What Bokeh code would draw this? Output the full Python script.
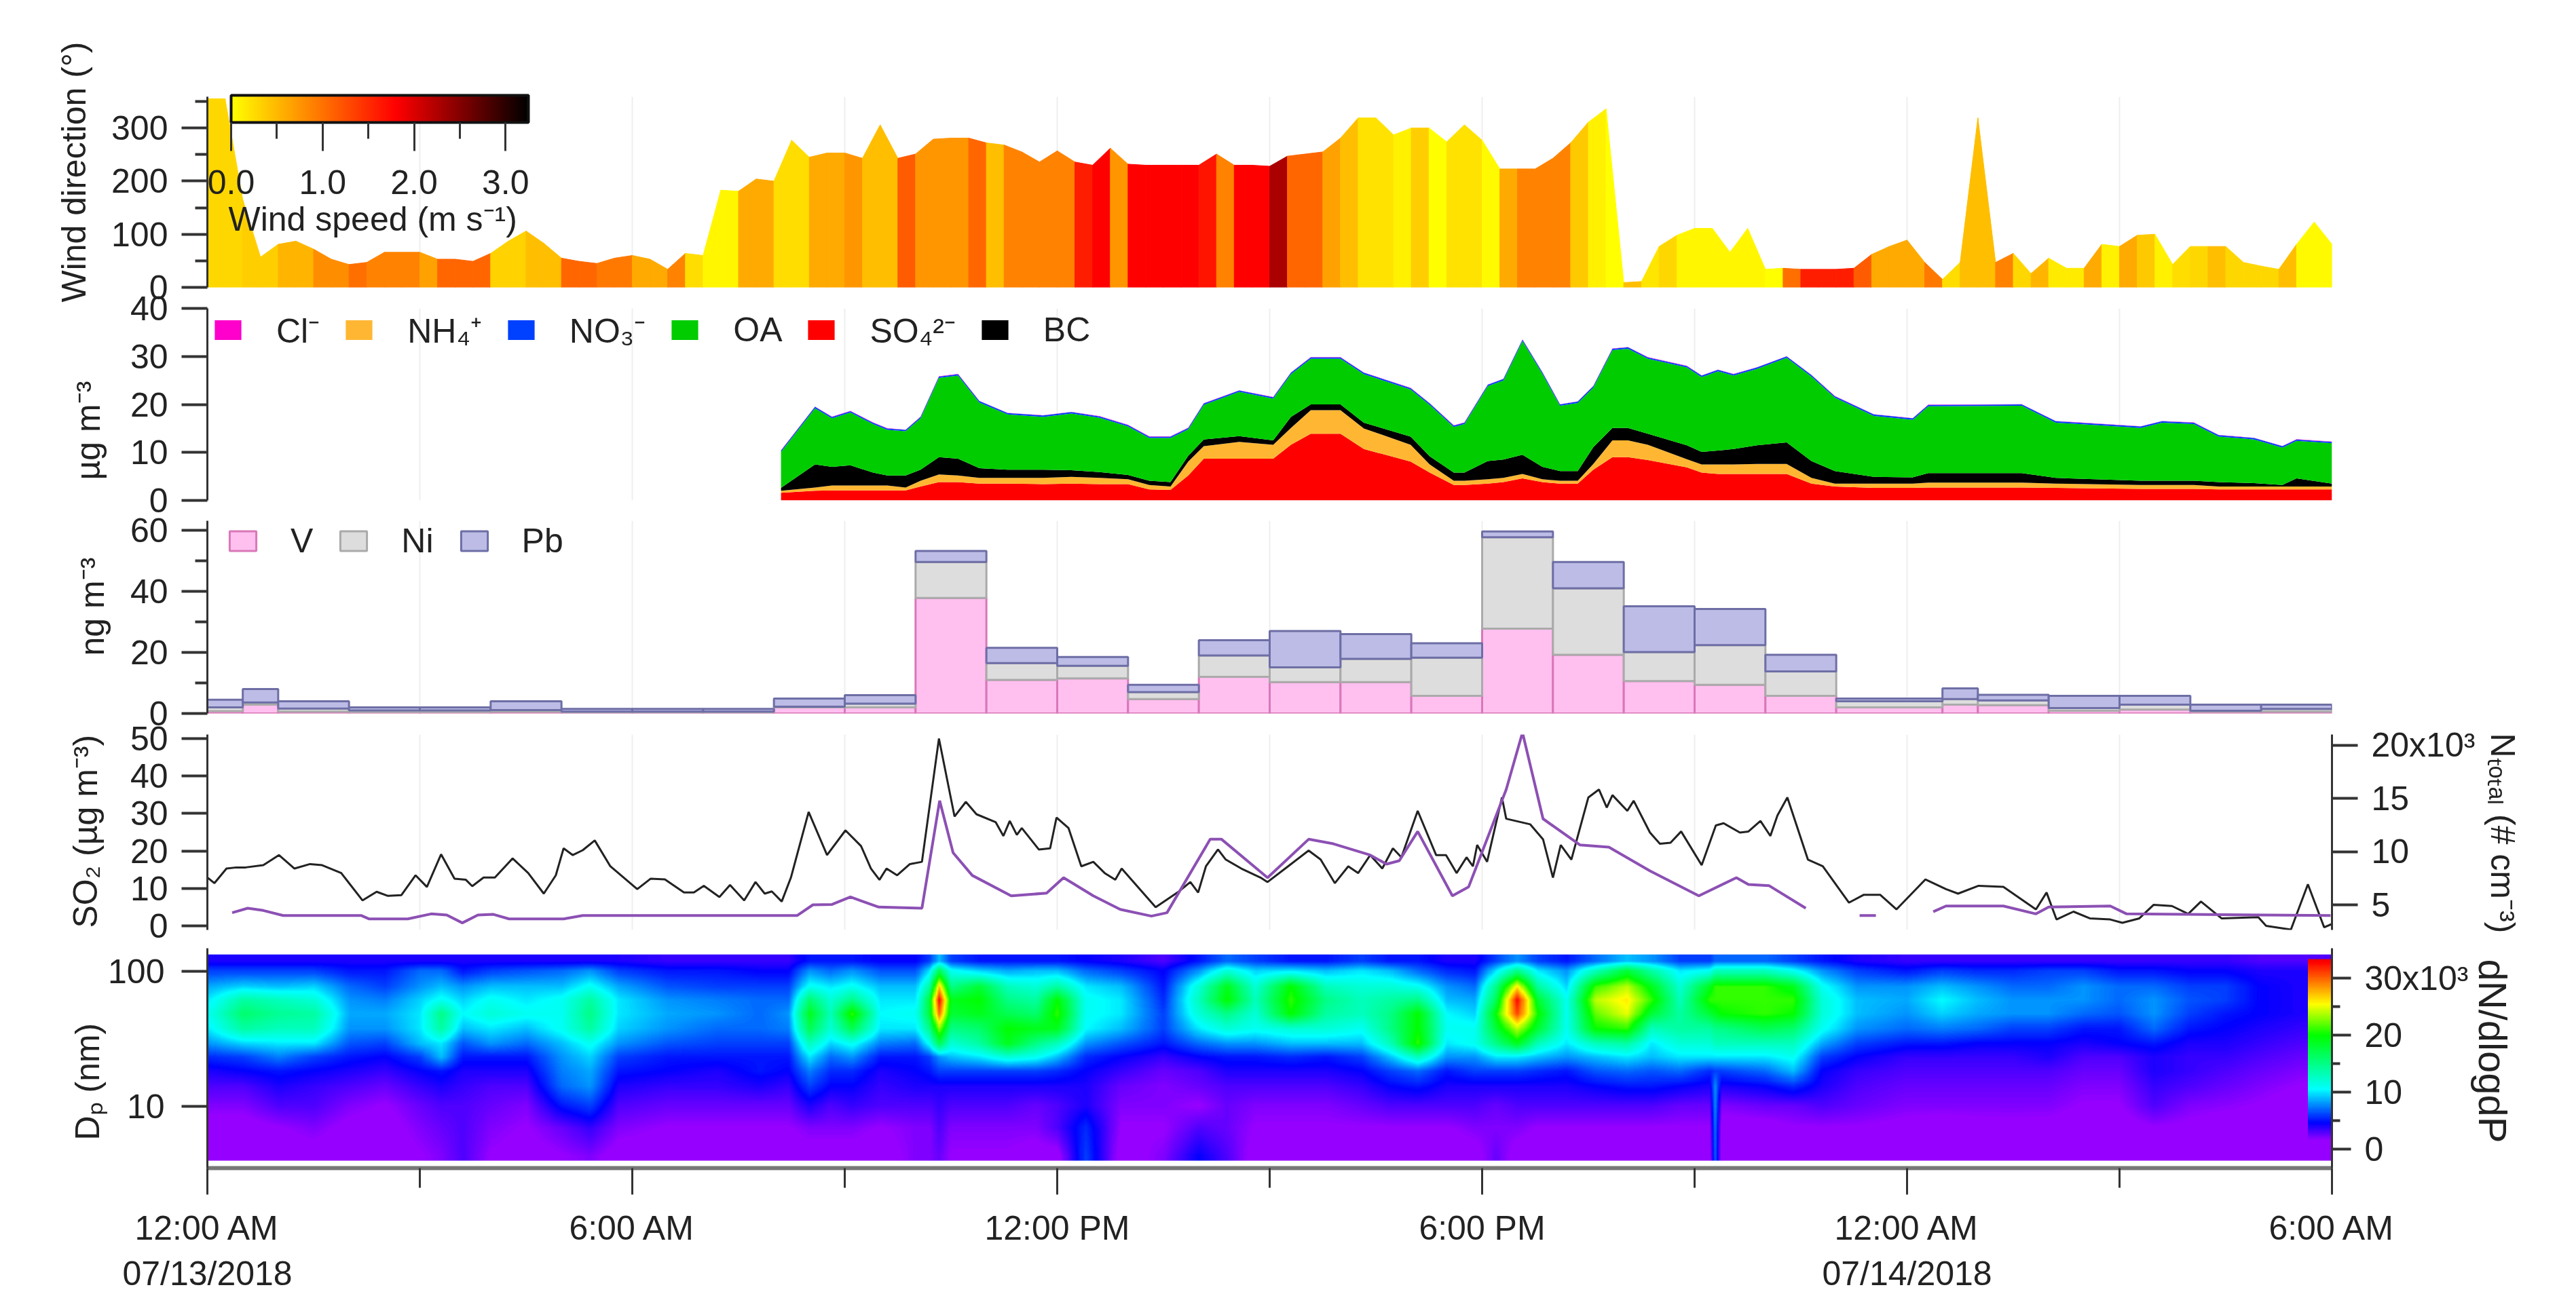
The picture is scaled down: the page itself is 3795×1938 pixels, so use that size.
import numpy as np
from bokeh.embed import file_html
from bokeh.resources import INLINE
from bokeh.layouts import column
from bokeh.plotting import figure
from bokeh.models import (Range1d, LinearAxis, LogAxis, LinearScale, LogScale, FixedTicker, LinearColorMapper, ColorBar,
                          PrintfTickFormatter, Label, Legend, LegendItem, ColumnDataSource, Title, Grid)

# ---------- data ----------
# wind, every 15 minutes from 00:00 on 07/13
wind_dir = [355,355,165,57,81,87,72,53,43,47,66,66,66,53,53,49,64,87,106,83,55,49,45,55,60,53,34,64,60,183,
            181,204,200,277,245,253,253,243,306,243,251,279,281,281,272,268,255,236,257,236,230,262,232,230,230,230,
            230,251,230,230,228,247,251,255,281,319,319,287,300,300,274,306,277,223,223,223,243,272,311,336,9,11,77,98,
            111,111,66,111,34,36,34,34,34,36,62,77,89,47,15,47,319,47,64,26,55,36,36,81,77,98,100,43,77,77,77,47,40,34,81,123,81]
wind_speed = [.28,.28,.35,.35,.53,.53,.81,.81,1.02,.88,.88,.88,.67,1.09,1.09,1.09,.32,.32,.46,.46,1.09,1.09,.95,.95,.6,.6,.88,.25,.07,.07,
              .6,.6,.25,.25,.6,.6,.74,.46,.46,1.16,.74,.74,.74,1.09,.46,.88,.88,.88,.88,1.59,1.8,.74,1.8,1.8,1.8,1.8,
              1.66,.88,1.8,1.8,2.28,1.09,1.09,.67,.46,.21,.21,.11,.35,0,.21,.21,.04,.6,.88,.88,.88,.39,.11,0,.46,.18,.28,.07,
              .07,.07,.07,.07,0,1.02,1.59,1.59,1.59,1.16,.6,.6,.6,.95,.25,.46,.46,.88,.28,.53,.14,.14,.6,.11,.6,.39,.11,.25,.28,.46,.28,.28,.28,.46,.04,.04]
wind_ticks = [0, 1, 2, 3]

# aerosol composition, ug m-3
aero_time = [8.1,8.58,8.82,9.08,9.4,9.6,9.86,10.07,10.33,10.6,10.9,11.3,11.8,12.2,12.6,13.0,13.3,13.6,13.85,14.07,
             14.57,15.05,15.3,15.58,16.0,16.33,16.99,17.26,17.6,17.75,18.08,18.3,18.57,18.85,19.1,19.35,19.57,19.84,20.06,20.34,
             20.89,21.1,21.33,21.55,21.88,22.3,22.65,22.98,23.53,24.08,24.3,25.62,26.1,27.3,27.6,28.05,28.4,28.9,29.3,29.5,30]
so4 = [1.6,2.0,2.1,2.1,2.1,2.1,2.1,2.9,3.8,3.8,3.5,3.5,3.4,3.5,3.4,3.4,2.3,2.2,5.2,8.7,
       8.7,8.7,11.6,13.9,13.9,10.7,8.1,5.8,3.2,3.2,3.5,3.8,4.6,3.8,3.5,3.5,6.4,9.0,9.0,8.4,
       6.9,5.8,5.5,5.5,5.5,5.5,3.5,2.9,2.6,2.6,2.7,2.7,2.6,2.4,2.4,2.4,2.3,2.3,2.3,2.3,2.3]
nh4 = [.4,.7,1.0,1.0,1.0,1.0,.6,1.2,1.6,1.4,1.2,1.2,1.3,1.4,1.3,1.0,.9,.7,2.9,2.6,
       3.5,2.9,3.5,4.9,4.9,4.3,3.5,1.7,.9,.9,.9,.9,.9,.6,.6,.6,1.2,3.5,3.5,3.2,
       1.7,1.7,2.0,2.0,2.1,2.1,1.2,.6,.9,.9,1.0,1.0,.9,.8,.8,.8,.6,.6,.6,.6,.6]
bc = [.6,4.8,3.9,4.2,2.7,2.1,2.5,2.3,3.6,3.5,2.0,1.7,1.7,1.4,1.2,.9,.9,.9,1.2,1.4,
      1.2,.9,2.3,1.2,1.2,1.2,1.7,1.7,1.7,1.7,3.8,3.8,4.0,2.6,2.0,2.0,3.5,2.6,2.6,2.3,
      2.9,2.6,2.9,3.2,3.9,4.5,3.5,2.6,1.4,1.3,2.0,2.0,1.2,.9,.9,.9,.9,.7,.3,1.7,.6]
oa = [7.5,11.7,10.1,11,10.1,9.5,9.2,10.7,16.5,17.3,13.7,11.5,11,11.8,11.3,10.1,8.9,9.2,5.5,7.2,
      9.2,8.7,8.9,9.5,9.5,10.1,9.8,10.7,9.5,10.1,15.6,16.5,23.7,19.4,13.6,14.2,12.4,16.2,16.5,15.6,
      16.2,15.6,16.5,15.3,15.9,17.6,17.6,15.3,12.7,12,13.9,14,11.5,11,12.1,11.8,9.5,9.1,7.8,7.8,8.4]
no3 = [0.3] * len(aero_time)
cl = [0.05] * len(aero_time)

# metals, ng m-3
metal_left  = [0,.5,1,2,3,4,5,6,7,8,9,10,11,12,13,14,15,16,17,18,19,20,21,22,23,24.5,25,26,27,28,29]
metal_right = [.5,1,2,3,4,5,6,7,8,9,10,11,12,13,14,15,16,17,18,19,20,21,22,23,24.5,25,26,27,28,29,30]
v_metal  = [.8,2.9,.6,.5,.5,.6,.4,.4,.4,2,2,37.8,11,11.5,4.7,12,10.3,10.3,5.8,27.8,19.2,10.6,9.4,5.8,2,2.9,2.7,.9,1.3,.6,.6]
ni_metal = [1.2,.7,1,.5,.5,.5,.2,.2,.2,.2,1.2,11.8,5.5,4.1,2.3,7,4.8,7.6,12.5,29.9,21.8,9.5,13,8,2,1.8,1.6,.9,1.6,.3,.9]
pb_metal = [2.5,4.4,2.4,1,1,2.9,.9,.9,.9,2.7,2.8,3.6,5,2.9,2.4,5,11.9,8.1,4.7,1.9,8.6,15,11.8,5.4,.9,3.5,1.8,4,2.9,2,1.4]

# SO2 (ug m-3)
so2_time = [0,.1,.27,.41,.54,.79,1.01,1.23,1.45,1.62,1.89,2.19,2.39,2.55,2.74,2.94,3.1,3.3,3.49,3.65,3.74,3.9,4.06,4.31,4.53,4.75,4.92,5.03,5.16,5.3,
            5.47,5.69,6.07,6.26,6.46,6.73,6.87,7.01,7.23,7.38,7.58,7.74,7.87,7.97,8.11,8.24,8.49,8.75,9.01,9.23,9.37,9.49,9.59,9.74,9.92,10.09,10.33,10.55,10.71,10.86,
            11.13,11.24,11.33,11.43,11.5,11.74,11.9,11.99,12.16,12.34,12.51,12.67,12.82,12.91,13.39,13.72,13.88,13.99,14.1,14.27,14.38,14.6,14.87,
            14.97,15.26,15.55,15.72,15.92,16.11,16.25,16.42,16.59,16.74,16.86,17.09,17.35,17.49,17.64,17.78,17.87,17.93,18.07,18.28,18.34,18.68,18.86,19.0,19.11,19.26,19.5,
            19.65,19.76,19.84,20.05,20.14,20.37,20.51,20.66,20.81,21.1,21.3,21.41,21.64,21.76,21.93,22.07,22.17,22.31,22.6,22.81,23.18,23.39,23.62,23.85,24.26,24.55,24.72,25.01,25.36,25.82,
            25.97,26.11,26.35,26.58,26.87,27.04,27.28,27.48,27.74,27.97,28.15,28.44,28.96,29.07,29.42,29.66,29.89,30]
so2 = [12.9,11.4,15.3,15.6,15.6,16.2,18.9,15.3,16.5,16.2,14.1,6.8,9.1,8,8.2,13.5,10.4,19.1,12.6,12.3,10.6,12.9,12.9,18,14.1,8.6,13.5,20.7,18.9,20.2,
       22.8,15.9,9.8,12.6,12.4,8.9,8.9,10.7,7.7,10.9,6.8,11.7,8.6,9.2,6.5,12.9,30.4,18.9,25.5,21.3,15.3,12.3,15.3,13.5,16.5,17.1,50,29.2,33.1,29.8,
       27.7,24,28,24.3,26.1,20.4,20.7,28.9,26.1,15.9,17.1,14.1,12.3,15.3,5,9.2,11.7,8.9,15.9,20.4,17.7,15.3,12.9,
       11.7,15.9,20.1,17.7,11.4,15.9,14.1,18.9,15.3,20.7,18.3,30.7,18.9,18.9,14.1,18.3,15.9,21.6,17.1,34.3,28.6,27.1,23.1,12.9,21.6,17.7,34.3,
       36.4,31.6,34.9,30.7,33.4,24.9,21.9,22.2,25.2,16.2,26.8,27.4,24.9,25.2,28,24,29.5,34.3,17.7,15.9,6.2,8.3,8.3,4.4,12.4,9.8,8.6,10.7,10.4,4.4,
       8.9,1.7,3.8,2,1.7,.8,2,5.6,5.3,3.2,6.5,2,2.3,0,-1,11.1,-.4,.5]

# total number concentration (x10^3 cm-3); nan marks a gap
nan = float("nan")
ntot_time = [.35,.57,.79,1.07,2.17,2.28,2.83,3.16,3.38,3.6,3.82,4.04,4.26,5.03,5.3,8.33,8.55,8.82,9.08,9.48,10.09,10.34,10.53,10.8,11.35,11.85,12.09,12.51,12.89,13.33,13.55,14.16,14.32,
             14.97,15.55,15.9,16.42,16.65,16.83,17.09,17.58,17.81,18.34,18.57,18.86,19.38,19.79,20.37,21.06,21.59,21.76,22.05,22.57,23.0,23.33,23.56,24.0,24.37,24.55,25.36,25.82,26.0,26.87,27.1,29.98]
ntot = [4.26,4.68,4.47,4,4,3.68,3.68,4.15,4.04,3.3,4.04,4.1,3.68,3.68,4,4,5,5.04,5.74,4.79,4.68,14.8,9.9,7.77,5.85,6.1,7.55,5.85,4.57,3.94,4.26,11.17,11.17,
        7.55,11.17,10.74,9.68,8.83,9.15,11.9,5.85,6.7,15.85,21.2,13.09,10.64,10.43,8.19,5.85,7.55,6.91,6.81,4.68,nan,4,4,nan,4.36,4.89,4.89,4.15,4.79,4.89,4.15,4]

# size distribution, dN/dlogDp (x10^3): one list of values per time, one value per diameter
hm_dp = [118,100,77,61,48,37.5,29,23,18,14,10,6.8,4.2]
hm_hours = [0,.5,1,1.5,2,2.5,3,3.3,3.6,4,4.5,5,5.4,5.8,6.5,7.2,7.8,8.2,8.5,8.8,9.1,9.5,10,10.2,10.33,10.5,10.9,11.3,11.7,12,12.4,12.9,13.5,14,14.4,14.8,15.3,15.8,16.3,16.7,17.1,17.5,17.9,18.2,18.5,18.8,19.2,19.6,20.05,20.4,20.8,21.22,21.3,21.38,22,22.4,22.8,23.3,24,24.5,25,25.5,26,26.5,27,27.5,28,28.5,29,29.6,30]
hm_values = [
 [4,6,8.5,10,11,10,8,5.5,4,3,2,1,.8],
 [4,6,9.5,14,16,14,9.5,6,4.5,3,2,1,.8],
 [4,6,9,13,14.5,13,10,7.5,5,4,3,1.5,1],
 [4,6,9.5,12,14,13,10,6,4.5,3.5,3,2,1],
 [4,5,7,8,8.5,8,6.5,5,4,3,2,1.2,1],
 [4,5,6,7.5,8.5,8,6,4.5,3.5,2.5,1.5,1,1],
 [4,7,8,9.5,10,10,9,6,4.5,3.5,2.5,2,1.5],
 [4,7,9,11,15,14,10,9,5,4,3,2.5,2],
 [4,5,8,9.5,10.5,9,6.5,5,4,3.5,3,3,3],
 [4,6,9,11,12,10,8,5,4,3,2.5,2,1.5],
 [4,6.5,9,10,11,9,7,5,4,3,2,1.5,1],
 [4,7,9,11,11,11,9,8,7.5,7,5,2.5,1.5],
 [4,8,11,14,15,14,11,9.5,8.5,8,6,3.5,2],
 [4,6,8.5,10,10,9.5,8,6,5,4,3,2,1],
 [3.5,5,6.5,8,8.5,8,6.5,5,4.5,3.5,2.5,1.5,1],
 [3.5,5,6,7.5,8,7,6,5,4,3.5,2.5,1.5,1],
 [3.5,4.5,6,7,7,7,6,5,5,4,2.5,1.5,1],
 [3.5,4.5,6,7,8,7.5,6,5,4.5,3.5,2.5,1.5,1],
 [5,8,11,16,19,17,13,10,7.5,6,4,2,1],
 [5,7,10,12,13,12,9.5,7,5.5,4.5,3,2,1],
 [5,8,11,15,21,17,11,8,5.5,4.5,3.5,2,1],
 [4.5,6.5,9,10,10.5,10,7.5,5,4,3.5,3,1.5,1],
 [4.5,6.5,9,10,11,10,7,5,4.5,4,3,2,2],
 [6,10,14,18,18,15,11,6,5,4,3,2,2],
 [9,17,27,33,30,23,17,8,6,4,3.5,3,2.5],
 [6,11,15,19,18,15,12,9,6,4,3,2,1.5],
 [5,9.5,18,20,19,16,14,10,6,4,3,2,1.5],
 [5,8.5,13,15,17,20,19,12,6,4,3,2,1.5],
 [5,9,12,14,16,19,15,11,6,4,2.5,2,1],
 [5,9,14,20,21,19,13,9,5.5,4,3,3,1],
 [4.5,7,10,11,11,10.5,8,5.5,4.5,4,4,5.5,6],
 [4,6,9,10,10,9,6.5,4.5,3.5,2.5,2,1.5,1],
 [3,4.5,5,5.5,6,6,5,3.5,2.5,2,2,1.5,2],
 [5,8,12,13,12,10,7,4.5,3,2.5,1.5,3,4.5],
 [7,12,19,20,15,12,8,5,4,3,2.5,2.5,3],
 [6,9.5,12,13,12,11,8,5,4,3,2,1.5,1],
 [5,10,20,21,20,12,9,5.5,4,3,2,1.5,1],
 [5,9,13,15,14,12,9,5,4,3,2,1.5,1],
 [6,10,12,13,13,11,9,6,4.5,3.5,2.5,1.5,1],
 [5,9,12,14,15,15,13,9,6,4.5,3,1.5,1],
 [5,7,11,15,20,20,21,13,7,5,3,1.5,1],
 [4,5.5,8,9,10.5,11,10,8,5,4,3,1.5,1],
 [4,5,7,8.5,9.5,11,11,8,6,4,3,2,1],
 [6,10,15,17,20,18,15,10,6,4,2.5,2,2.5],
 [8,15,26,33,31,24,19,10,6,4,3,2,1],
 [6,10,14,18,20,18,13,9,5.5,4,3,1.5,1],
 [5,8,9.5,11,11,11,10,8,5,4,3,1.5,1],
 [7,13,21,24,22,20,13,9,6.5,4.5,3,1.5,1],
 [9,18,24,26,25,21,14,10,7,5,3,1.5,1],
 [8,14,19,21,18,13,10,9,6.5,5,3,1.5,1],
 [6,10,12,13,14,14,12,10,7,4.5,2.5,1.5,1],
 [6,11,19,21,18,14,12,10,5.5,4,2.5,1.5,1],
 [7,13,21,21,19,15,13,10,6,8,8,7.5,7],
 [7,13,21,21,20,15,13,10,6,4,2,1,1],
 [7,13,21,21,21,17,13,10,7,4.5,2.5,1,.8],
 [6,11,19,21,20,16,13,11,9,5.5,2.5,1.5,1],
 [5,8,11,12,12,11,8.5,6,4.5,4,3,1.5,1],
 [4,6,8,9,9,8,6,4.5,3.5,3,2.5,1.5,1],
 [3.5,5,8,8.5,8,7,5,3.5,3,2.5,2,1.2,1],
 [3.5,6,9,10.5,9.5,7.5,5,3.5,3,2.5,2,1,.8],
 [3.5,5.5,8,9,8.5,7,4.5,3.5,3,2.5,2,1.2,1],
 [3.5,5.5,7,8,8,6,4.5,3.5,3,2.5,2,1.3,1],
 [3.5,6,7,8,8,6,4.5,4,3,2.5,2,1.2,1],
 [3.5,6,8,8,7,5,4,3,2.5,2,1.5,1,1],
 [3.5,5,7,7,6.5,5,4.5,3,2.5,2,1.5,1,.8],
 [3.5,5,7,8,8,7,5,4,4,3.5,3,1.5,1],
 [3.5,4.5,6,6.5,6,5,4,3.5,3.5,3,2,1.3,1],
 [3.5,4.5,6,6,5,4.5,4,3.5,3,2.5,1.8,1,.8],
 [3,4,4.5,4.5,4.5,4,3.5,3,2.5,2,1.5,1,.8],
 [3,4,4,4,4,3.5,3,2.5,2,1.5,1,1,.8],
 [3,4,4,4,4,3.5,3,2.5,2,1.5,1,1,.8],
]

x_tick_hours = [0, 6, 12, 18, 24, 30]
x_minor_hours = [3, 9, 15, 21, 27]
x_tick_labels = ["12:00 AM\n07/13/2018", "6:00 AM", "12:00 PM", "6:00 PM", "12:00 AM\n07/14/2018", "6:00 AM"]

# ---------- layout (reference pixels) ----------
FONT = "Liberation Sans"
TXT = "#222222"
FS = "50px"
X0, X1 = 305, 3435
FIG_W = 3780

def ramp(stops, n=256):
    xs = np.array([s[0] for s in stops], float)
    out = []
    for t in np.linspace(xs[0], xs[-1], n):
        c = [int(round(np.interp(t, xs, [s[1][i] for s in stops]))) for i in range(3)]
        out.append("#%02x%02x%02x" % tuple(c))
    return out

wind_mapper = LinearColorMapper(palette=ramp([(0, (255,255,0)), (1.8, (255,0,0)), (3.25, (0,0,0))]), low=0, high=3.25)
dn_mapper = LinearColorMapper(palette=ramp([(-1.5,(150,0,255)),(1.5,(150,0,255)),(4.5,(0,0,255)),(10.5,(0,255,255)),
                                            (20,(0,255,0)),(25.5,(255,255,0)),(33,(255,0,0)),(33.6,(225,0,0))]), low=-1.5, high=33.6)

def panel(ytop, ybot, canvas_top, canvas_bot, yr, overlap=0, grid=True):
    p = figure(width=FIG_W, height=canvas_bot - canvas_top, x_range=Range1d(0, 30), y_range=yr,
               x_axis_type=None, y_axis_type=None,
               output_backend="svg", toolbar_location=None, min_border_left=X0,
               min_border_right=FIG_W - X1, min_border_top=ytop - canvas_top,
               min_border_bottom=canvas_bot - ybot, border_fill_color=None, background_fill_color=None,
               outline_line_color=None, margin=(-overlap, 0, 0, 0))
    if grid:
        p.add_layout(Grid(dimension=0, ticker=FixedTicker(ticks=[3 * i for i in range(1, 10)]),
                          grid_line_color="#eeeeee", grid_line_width=2))
    p._px = ybot
    return p

def style_axis(a, major, minor=(), tick=38, minor_len=18, standoff=20):
    a.ticker = FixedTicker(ticks=list(major), minor_ticks=list(minor))
    a.axis_line_color = "#333333"; a.axis_line_width = 3
    a.major_tick_line_color = "#333333"; a.major_tick_line_width = 4
    a.minor_tick_line_color = "#333333"; a.minor_tick_line_width = 4
    a.major_tick_in = 0; a.major_tick_out = tick
    a.minor_tick_in = 0; a.minor_tick_out = minor_len
    a.major_label_standoff = standoff
    a.major_label_text_font = FONT; a.major_label_text_font_size = FS
    a.major_label_text_color = TXT
    a.major_label_orientation = "horizontal"

def left_axis(p, major, minor=()):
    a = LinearAxis()
    style_axis(a, major, minor)
    p.add_layout(a, "left")
    return a

def put(p, xpx, ypx, s, size=FS, angle=0.0, align="center", base="middle"):
    p.add_layout(Label(x=xpx - X0, y=p._px - ypx, x_units="screen", y_units="screen", text=s,
                       text_font=FONT, text_font_size=size, text_color=TXT, angle=angle,
                       text_align=align, text_baseline=base))

def side_title(p, side, s, standoff, offset, size=FS):
    p.add_layout(Title(text=s, align="left", standoff=standoff, offset=offset, text_font=FONT,
                       text_font_size=size, text_font_style="normal", text_color=TXT), side)

# ---------- panel 1: wind ----------
p1 = panel(142, 423, 0, 450, Range1d(0, 359))
left_axis(p1, [0, 100, 200, 300], [50, 150, 250, 350])
wt = [0.25 * i for i in range(len(wind_dir))]
src = ColumnDataSource(dict(
    xs=[[wt[i], wt[i + 1], wt[i + 1], wt[i]] for i in range(len(wind_speed))],
    ys=[[0, 0, wind_dir[i + 1], wind_dir[i]] for i in range(len(wind_speed))],
    v=wind_speed))
p1.patches("xs", "ys", source=src, fill_color={"field": "v", "transform": wind_mapper},
           line_color={"field": "v", "transform": wind_mapper}, line_width=1)
cb = ColorBar(color_mapper=wind_mapper, width=438, height=40, orientation="horizontal",
              location=(35, 135), padding=0, margin=0, background_fill_color=None,
              ticker=FixedTicker(ticks=wind_ticks, minor_ticks=[.5, 1.5, 2.5]),
              formatter=PrintfTickFormatter(format="%.1f"),
              bar_line_color="#111111", bar_line_width=4, major_tick_in=0, major_tick_out=42, minor_tick_in=0, minor_tick_out=24,
              major_tick_line_color="#333333", major_tick_line_width=3, minor_tick_line_color="#333333", minor_tick_line_width=3,
              label_standoff=28, major_label_text_font=FONT, major_label_text_font_size=FS, major_label_text_color=TXT)
p1.add_layout(cb, "center")
put(p1, 336, 322, "Wind speed (m s\u207b\u00b9)", align="left")
side_title(p1, "left", "Wind direction (\u00b0)", 50, -22)

# ---------- panel 2: composition ----------
p2 = panel(454, 737, 430, 755, Range1d(0, 40), overlap=20)
left_axis(p2, [0, 10, 20, 30, 40])
src = ColumnDataSource(dict(t=aero_time, so4=so4, nh4=nh4, bc=bc, oa=oa, no3=no3, cl=cl))
names = ["so4", "nh4", "bc", "oa", "no3", "cl"]
cols = ["#ff0000", "#ffb733", "#000000", "#00cc00", "#0040ff", "#ff00cc"]
rs = p2.varea_stack(stackers=names, x="t", color=cols, source=src)
by = dict(zip(names, rs))
leg = Legend(items=[LegendItem(label="Cl\u207b", renderers=[by["cl"]]), LegendItem(label="NH\u2084\u207a", renderers=[by["nh4"]]),
                    LegendItem(label="NO\u2083\u207b", renderers=[by["no3"]]), LegendItem(label="OA", renderers=[by["oa"]]),
                    LegendItem(label="SO\u2084\u00b2\u207b", renderers=[by["so4"]]), LegendItem(label="BC", renderers=[by["bc"]])],
             orientation="horizontal", location=(6, 217), border_line_color=None, background_fill_alpha=0, padding=0, margin=0, spacing=33,
             glyph_width=49, glyph_height=36, label_standoff=47, label_text_font=FONT, label_text_font_size=FS,
             label_text_color=TXT, label_height=36)
p2.add_layout(leg, "center")
side_title(p2, "left", "\u00b5g m\u207b\u00b3", 62, 30)

# ---------- panel 3: metals ----------
p3 = panel(767, 1051, 745, 1070, Range1d(0, 63.1), overlap=10)
left_axis(p3, [0, 20, 40, 60], [10, 30, 50])
b1 = np.array(v_metal); b2 = b1 + np.array(ni_metal); b3 = b2 + np.array(pb_metal)
r_v = p3.quad(left=metal_left, right=metal_right, bottom=0, top=b1, fill_color="#ffc0f0", line_color="#d878b8", line_width=3)
r_ni = p3.quad(left=metal_left, right=metal_right, bottom=b1, top=b2, fill_color="#dddddd", line_color="#aaaaaa", line_width=3)
r_pb = p3.quad(left=metal_left, right=metal_right, bottom=b2, top=b3, fill_color="#bcbce6", line_color="#6e6ea6", line_width=3)
leg3 = Legend(items=[LegendItem(label="V", renderers=[r_v]), LegendItem(label="Ni", renderers=[r_ni]), LegendItem(label="Pb", renderers=[r_pb])],
              orientation="horizontal", location=(28, 225), border_line_color=None, background_fill_alpha=0, padding=0, margin=0, spacing=35,
              glyph_width=49, glyph_height=36, label_standoff=46, label_text_font=FONT, label_text_font_size=FS,
              label_text_color=TXT, label_height=36)
p3.add_layout(leg3, "center")
side_title(p3, "left", "ng m\u207b\u00b3", 50, 85)

# ---------- panel 4: SO2 and number ----------
p4 = panel(1082, 1370, 1060, 1385, Range1d(-1.09, 51.09), overlap=10)
left_axis(p4, [0, 10, 20, 30, 40, 50])
p4.extra_y_ranges = {"n": Range1d(2.64, 21.02)}
p4.extra_y_scales = {"n": LinearScale()}
ax = LinearAxis(y_range_name="n")
style_axis(ax, [5, 10, 15, 20])
ax.major_label_overrides = {20: "20x10\u00b3"}
p4.add_layout(ax, "right")
p4.line(so2_time, so2, line_color="#222222", line_width=3)
p4.line(ntot_time, ntot, y_range_name="n", line_color="#8c50b4", line_width=4)
side_title(p4, "left", "SO\u2082 (\u00b5g m\u207b\u00b3)", 70, 3)
side_title(p4, "right", "N\u209c\u2092\u209c\u2090\u2097 (# cm\u207b\u00b3)", 18, -2)

# ---------- panel 5: size distribution ----------
p5 = panel(1397, 1721, 1375, 1930, Range1d(3.46, 148.4), overlap=10, grid=False)
p5.y_scale = LogScale()
a5 = LogAxis()
style_axis(a5, [10, 100], standoff=25)
a5.major_label_overrides = {10: "10", 100: "100"}
p5.add_layout(a5, "left")
hm_t = np.linspace(0, 30, 1500)
hm_log = np.linspace(np.log10(3.93), np.log10(133.4), 300)
rows = np.array(hm_values, float)
log_dp = np.log10(hm_dp)[::-1]
by_time = np.array([np.interp(hm_log, log_dp, rows[i][::-1]) for i in range(rows.shape[0])])
image = np.array([np.interp(hm_t, hm_hours, by_time[:, j]) for j in range(by_time.shape[1])])
p5.image(image=[image], x=0, y=3.93, dw=30, dh=133.4 - 3.93, color_mapper=dn_mapper)
p5.extra_y_ranges = {"dn": Range1d(-3.29, 35.3)}
p5.extra_y_scales = {"dn": LinearScale()}
grad = np.linspace(-1.4, 33.4, 256).reshape(256, 1)
p5.image(image=[grad], x=29.66, y=-1.4, dw=0.34, dh=34.8, color_mapper=dn_mapper, y_range_name="dn")
ar = LinearAxis(y_range_name="dn")
style_axis(ar, [0, 10, 20, 30], [5, 15, 25], tick=28, minor_len=12)
ar.major_label_overrides = {30: "30x10\u00b3"}
p5.add_layout(ar, "right")
xa = LinearAxis()
style_axis(xa, x_tick_hours, x_minor_hours, tick=39, minor_len=29, standoff=21)
xa.axis_line_color = "#777777"; xa.axis_line_width = 6
xa.major_tick_line_width = 3; xa.minor_tick_line_width = 3
xa.major_label_overrides = dict(zip(x_tick_hours, x_tick_labels))
p5.add_layout(xa, "below")
side_title(p5, "left", "D\u209a (nm)", 0, 41)
side_title(p5, "right", "dN/dlogdP", 0, 16, size="58px")

root = column(p1, p2, p3, p4, p5, spacing=0)
open("out.html", "w").write(file_html(root, INLINE))
